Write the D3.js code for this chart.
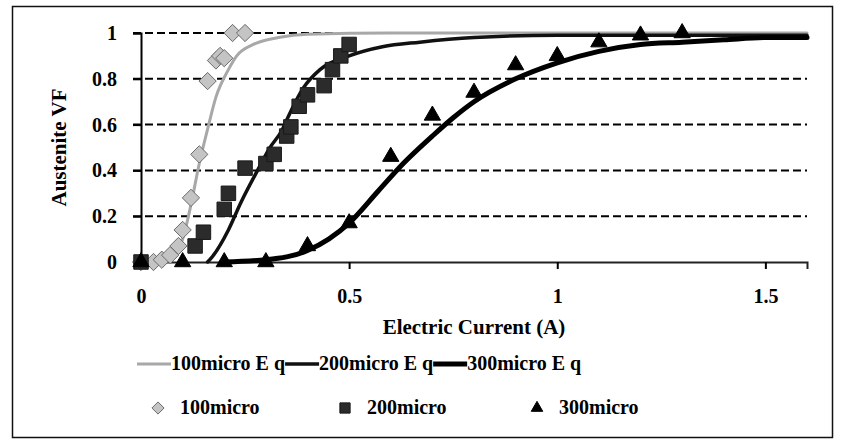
<!DOCTYPE html>
<html>
<head>
<meta charset="utf-8">
<script src="https://cdn.jsdelivr.net/npm/d3@7"></script>
<style>
  html, body { margin: 0; padding: 0; background: #fff; }
</style>
</head>
<body>
<div id="chart"></div>
<script>
// measured points (x = current in A, y = austenite volume fraction)
const x100 = [0, 0.03, 0.05, 0.07, 0.09, 0.1, 0.12, 0.14, 0.16, 0.18, 0.19, 0.2, 0.22, 0.25];
const y100 = [0, 0, 0.01, 0.03, 0.07, 0.14, 0.28, 0.47, 0.79, 0.88, 0.9, 0.89, 1, 1];

const x200 = [0, 0.13, 0.15, 0.2, 0.21, 0.25, 0.3, 0.32, 0.35, 0.36, 0.38, 0.4, 0.44, 0.46, 0.48, 0.5];
const y200 = [0, 0.07, 0.13, 0.23, 0.3, 0.41, 0.43, 0.47, 0.55, 0.59, 0.68, 0.73, 0.77, 0.84, 0.9, 0.95];

const x300 = [0, 0.1, 0.2, 0.3, 0.4, 0.5, 0.6, 0.7, 0.8, 0.9, 1.0, 1.1, 1.2, 1.3];
const y300 = [0, 0, 0, 0, 0.07, 0.17, 0.46, 0.64, 0.74, 0.86, 0.9, 0.96, 0.99, 1.0];

// fitted curves
const xEq100 = [0.05, 0.08, 0.1, 0.12, 0.14, 0.16, 0.18, 0.21, 0.23, 0.27, 0.33, 0.4, 0.6, 1.6];
const yEq100 = [0, 0.03, 0.1, 0.25, 0.43, 0.58, 0.72, 0.84, 0.9, 0.95, 0.98, 0.995, 1, 1];

const xEq200 = [0.16, 0.17, 0.21, 0.24, 0.28, 0.31, 0.34, 0.35, 0.39, 0.43, 0.5, 0.58, 0.67, 0.8, 1.0, 1.6];
const yEq200 = [0, 0.02, 0.14, 0.26, 0.4, 0.5, 0.58, 0.62, 0.76, 0.84, 0.9, 0.94, 0.96, 0.98, 0.99, 0.99];

const xEq300 = [0.2, 0.3, 0.4, 0.5, 0.57, 0.63, 0.7, 0.75, 0.8, 0.9, 1.0, 1.1, 1.2, 1.3, 1.4, 1.5, 1.6];
const yEq300 = [0, 0.01, 0.05, 0.17, 0.31, 0.43, 0.55, 0.63, 0.7, 0.8, 0.87, 0.92, 0.95, 0.96, 0.97, 0.98, 0.98];

const xTicks = [0, 0.5, 1, 1.5];
const yTicks = [0, 0.2, 0.4, 0.6, 0.8, 1];

const w = 842;
const h = 444;
const serif = 'Liberation Serif';

const svg = d3
	.select('#chart')
	.append('svg')
	.attr('width', w)
	.attr('height', h)
	.attr('font-family', serif)
	.attr('font-weight', 'bold')
	.style('display', 'block')
	.style('background-color', '#fff');

// outer frame
svg
	.append('rect')
	.attr('x', 12.5)
	.attr('y', 6.5)
	.attr('width', 820)
	.attr('height', 431)
	.attr('fill', 'none')
	.attr('stroke', '#111')
	.attr('stroke-width', 1.5);

const x = d3.scaleLinear().domain([0, 1.6]).range([141, 807]);
const y = d3.scaleLinear().domain([0, 1]).range([262, 33]);

// dashed gridlines
svg
	.append('g')
	.selectAll('line')
	.data(yTicks.filter(d => d > 0))
	.enter()
	.append('line')
	.attr('x1', 133)
	.attr('x2', x(1.6))
	.attr('y1', d => y(d))
	.attr('y2', d => y(d))
	.attr('stroke', '#000')
	.attr('stroke-width', 2)
	.attr('stroke-dasharray', '8,4');

// y axis
const yAxis = svg
	.append('g')
	.attr('transform', `translate(${x(0)},0)`)
	.call(d3.axisLeft(y).tickValues(yTicks).tickFormat(d3.format('')).tickSize(8).tickPadding(16));
yAxis.attr('font-family', serif).attr('font-size', 20);
yAxis.select('.domain').attr('stroke', '#000').attr('stroke-width', 2);
yAxis.selectAll('.tick line').attr('stroke', '#000').attr('stroke-width', 2);

// x axis
const xAxis = svg
	.append('g')
	.attr('transform', `translate(0,${y(0)})`)
	.call(d3.axisBottom(x).tickValues(xTicks).tickFormat(d3.format('')).tickSizeOuter(0).tickSize(7).tickPadding(20));
xAxis.attr('font-family', serif).attr('font-size', 20);
xAxis.select('.domain').attr('stroke', '#222').attr('stroke-width', 2);
xAxis.selectAll('.tick line').attr('stroke', '#000').attr('stroke-width', 2);

// axis titles
svg
	.append('text')
	.attr('transform', `translate(66,${(y(0) + y(1)) / 2}) rotate(-90)`)
	.attr('text-anchor', 'middle')
	.attr('font-size', 21)
	.text('Austenite VF');

svg
	.append('text')
	.attr('x', (x(0) + x(1.6)) / 2)
	.attr('y', 334)
	.attr('text-anchor', 'middle')
	.attr('font-size', 21)
	.text('Electric Current (A)');

// fitted curves
const line = d3
	.line()
	.x(d => x(d[0]))
	.y(d => y(d[1]))
	.curve(d3.curveMonotoneX);

const curves = [
	{ name: '100micro E q', xs: xEq100, ys: yEq100, color: '#a8a8a8', width: 3 },
	{ name: '200micro E q', xs: xEq200, ys: yEq200, color: '#111', width: 3.5 },
	{ name: '300micro E q', xs: xEq300, ys: yEq300, color: '#000', width: 5 }
];

svg
	.append('g')
	.selectAll('path')
	.data(curves)
	.enter()
	.append('path')
	.attr('d', d => line(d.xs.map((v, i) => [v, d.ys[i]])))
	.attr('fill', 'none')
	.attr('stroke', d => d.color)
	.attr('stroke-width', d => d.width)
	.attr('stroke-linecap', 'round');

// markers
const series = [
	{ name: '100micro', xs: x100, ys: y100, type: d3.symbolDiamond2, size: 190, fill: '#c4c4c4', stroke: '#6a6a6a' },
	{ name: '200micro', xs: x200, ys: y200, type: d3.symbolSquare, size: 210, fill: '#2b2b2b', stroke: '#1a1a1a' },
	{ name: '300micro', xs: x300, ys: y300, type: d3.symbolTriangle, size: 115, fill: '#000', stroke: '#000' }
];

series.forEach(s => {
	svg
		.append('g')
		.selectAll('path')
		.data(s.xs.map((v, i) => [v, s.ys[i]]))
		.enter()
		.append('path')
		.attr('transform', d => `translate(${x(d[0])},${y(d[1])})`)
		.attr('d', d3.symbol().type(s.type).size(s.size))
		.attr('fill', s.fill)
		.attr('stroke', s.stroke)
		.attr('stroke-width', 1);
});

// legend, row 1: curves
const leg1 = svg.append('g');
let lx = 137;
const seg = 34;
curves.forEach(c => {
	leg1
		.append('line')
		.attr('x1', lx)
		.attr('x2', lx + seg)
		.attr('y1', 364)
		.attr('y2', 364)
		.attr('stroke', c.color)
		.attr('stroke-width', c.width);
	const t = leg1
		.append('text')
		.attr('x', lx + seg)
		.attr('y', 370)
		.attr('font-size', 20)
		.text(c.name);
	lx += seg + t.node().getComputedTextLength();
});

// legend, row 2: markers
const leg2 = svg.append('g');
const markerX = [158, 345, 537];
series.forEach((s, i) => {
	leg2
		.append('path')
		.attr('transform', `translate(${markerX[i]},408)`)
		.attr('d', d3.symbol().type(s.type).size(s.size * 0.5))
		.attr('fill', s.fill)
		.attr('stroke', s.stroke);
	leg2
		.append('text')
		.attr('x', markerX[i] + 22)
		.attr('y', 414)
		.attr('font-size', 20)
		.text(s.name);
});
</script>
</body>
</html>
